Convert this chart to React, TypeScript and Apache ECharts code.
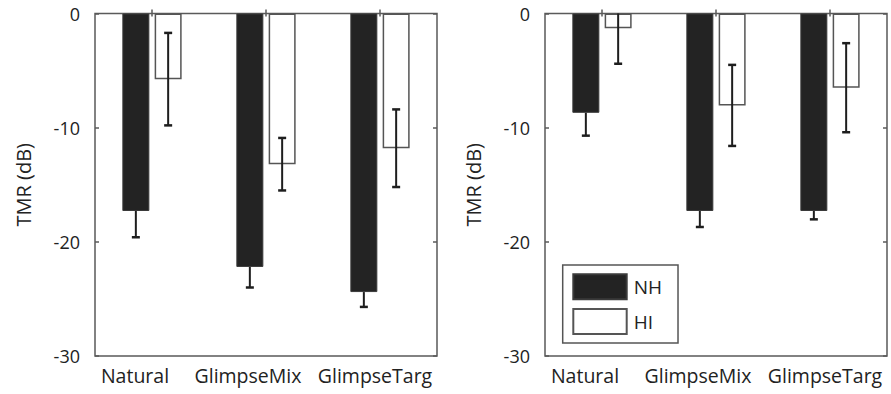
import React, { useEffect, useRef } from "react";
import * as echarts from "echarts";

const categories = ["Natural", "GlimpseMix", "GlimpseTarg"];
const seriesNames = ["NH", "HI"];
const yTicks = { min: -30, max: 0, interval: 10 };

// Left panel
const leftNH = [-17.3, -22.2, -24.4];
const leftNHErr = [2.3, 1.8, 1.3];
const leftHI = [-5.75, -13.2, -11.8];
const leftHIErr = [4.05, 2.3, 3.4];

// Right panel
const rightNH = [-8.7, -17.3, -17.3];
const rightNHErr = [2.0, 1.4, 0.73];
const rightHI = [-1.3, -8.05, -6.5];
const rightHIErr = [3.1, 3.55, 3.9];

const FONT = "Open Sans";
const TEXT = "#222222";
const AXIS = "#5a5a5a";
const BAR_W = 27;
const BAR_GAP = 5.3;
const labelShift = [34, 36, 10];

function makeErrSeries(name: string, grid: number, means: number[], errs: number[], side: number, lowerOnly: boolean) {
  const offset = side * (BAR_W + BAR_GAP) / 2;
  return {
    type: "custom",
    name: name + " err",
    xAxisIndex: grid * 2,
    yAxisIndex: grid * 2,
    z: 5,
    silent: true,
    data: means.map((m, i) => [i, m, errs[i]]),
    renderItem: (params: any, api: any) => {
      const i = api.value(0);
      const v = api.value(1);
      const e = api.value(2);
      const top = lowerOnly ? v : v + e;
      const clipped = top > 0;
      const lo = api.coord([i, v - e]);
      const hi = api.coord([i, Math.min(0, top)]);
      const x = lo[0] + offset;
      const style = { stroke: "#1e1e1e", lineWidth: 2 };
      const cap = { stroke: "#1e1e1e", lineWidth: 2.5 };
      const children: any[] = [
        { type: "line", shape: { x1: x, y1: hi[1], x2: x, y2: lo[1] }, style },
        { type: "line", shape: { x1: x - 4, y1: lo[1], x2: x + 4, y2: lo[1] }, style: cap },
      ];
      if (!clipped && !lowerOnly) {
        children.push({ type: "line", shape: { x1: x - 4, y1: hi[1], x2: x + 4, y2: hi[1] }, style: cap });
      }
      return { type: "group", children };
    },
  };
}

function panelSeries(grid: number, nh: number[], nhErr: number[], hi: number[], hiErr: number[]) {
  return [
    {
      type: "bar",
      name: seriesNames[0],
      xAxisIndex: grid * 2,
      yAxisIndex: grid * 2,
      data: nh,
      barWidth: BAR_W,
      barGap: (BAR_GAP / BAR_W) * 100 + "%",
      itemStyle: { color: "#232323", borderColor: "#3a3a3a", borderWidth: 1 },
    },
    {
      type: "bar",
      name: seriesNames[1],
      xAxisIndex: grid * 2,
      yAxisIndex: grid * 2,
      data: hi,
      barWidth: BAR_W,
      barGap: (BAR_GAP / BAR_W) * 100 + "%",
      itemStyle: { color: "#ffffff", borderColor: "#555555", borderWidth: 1.5 },
    },
    makeErrSeries(seriesNames[0], grid, nh, nhErr, -1, true),
    makeErrSeries(seriesNames[1], grid, hi, hiErr, 1, false),
  ];
}

function xAxes(grid: number) {
  return [
    {
      type: "category",
      gridIndex: grid,
      data: categories.map((c, i) => ({ value: c, textStyle: { padding: [0, labelShift[i], 0, 0] } })),
      axisLine: { show: false },
      axisTick: { show: true, inside: true, length: 4, alignWithLabel: true, lineStyle: { color: AXIS, width: 1.5 } },
      axisLabel: { show: true, interval: 0, hideOverlap: false, margin: 9, fontFamily: FONT, fontSize: 19.5, color: TEXT },
    },
    {
      type: "category",
      gridIndex: grid,
      position: "top",
      data: categories,
      axisLine: { show: false },
      axisTick: { show: true, inside: true, length: 3, alignWithLabel: true, lineStyle: { color: AXIS, width: 1.5 } },
      axisLabel: { show: false },
    },
  ];
}

function yAxes(grid: number) {
  return [
    {
      type: "value",
      gridIndex: grid,
      min: yTicks.min,
      max: yTicks.max,
      interval: yTicks.interval,
      name: "TMR (dB)",
      nameLocation: "middle",
      nameGap: 62,
      nameTextStyle: { fontFamily: FONT, fontSize: 20, color: TEXT },
      axisLine: { show: false },
      splitLine: { show: false },
      axisTick: { show: true, inside: true, length: 4, lineStyle: { color: AXIS, width: 1.5 } },
      axisLabel: { show: true, margin: 15, fontFamily: FONT, fontSize: 18, color: TEXT, padding: [6, 0, 0, 0] },
    },
    {
      type: "value",
      gridIndex: grid,
      position: "right",
      min: yTicks.min,
      max: yTicks.max,
      interval: yTicks.interval,
      axisLine: { show: false },
      splitLine: { show: false },
      axisTick: { show: true, inside: true, length: 4, lineStyle: { color: AXIS, width: 1.5 } },
      axisLabel: { show: false },
    },
  ];
}

export default function App() {
  const ref = useRef<HTMLDivElement>(null);
  useEffect(() => {
    if (!ref.current) return;
    const chart = echarts.init(ref.current, undefined, { renderer: "svg" });
    const gridBase = { top: 13.5, height: 342.5, width: 342, show: true, borderColor: AXIS, borderWidth: 1.5, backgroundColor: "transparent" };
    chart.setOption({
      animation: false,
      backgroundColor: "#ffffff",
      grid: [
        { ...gridBase, left: 95 },
        { ...gridBase, left: 545 },
      ],
      xAxis: [...xAxes(0), ...xAxes(1)],
      yAxis: [...yAxes(0), ...yAxes(1)],
      legend: {
        data: seriesNames,
        orient: "vertical",
        left: 562.7,
        top: 265,
        icon: "rect",
        itemWidth: 53.4,
        itemHeight: 25,
        itemGap: 7.7,
        padding: [8.3, 16, 8, 9.6],
        borderColor: "#555555",
        borderWidth: 1.5,
        selectedMode: false,
        textStyle: { fontFamily: FONT, fontSize: 19, color: TEXT, padding: [0, 0, 0, 2] },
      },
      series: [
        ...panelSeries(0, leftNH, leftNHErr, leftHI, leftHIErr),
        ...panelSeries(1, rightNH, rightNHErr, rightHI, rightHIErr),
      ],
    });
    return () => chart.dispose();
  }, []);
  return (
    <div
      ref={ref}
      style={{ position: "absolute", left: 0, top: 0, width: 891, height: 394, background: "#fff" }}
    />
  );
}
